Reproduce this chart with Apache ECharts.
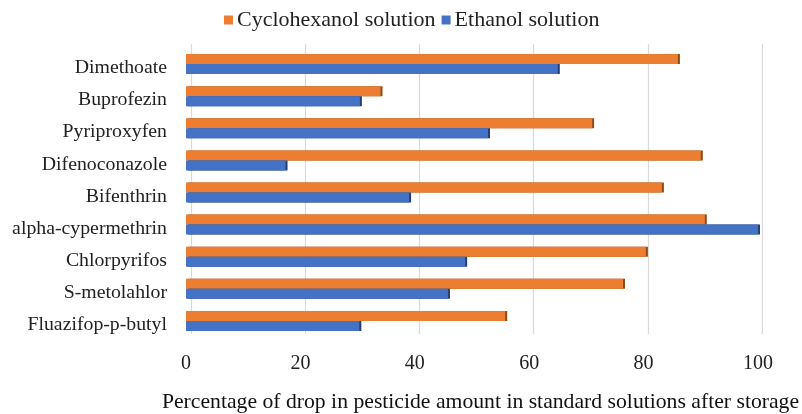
<!DOCTYPE html>
<html>
<head>
<meta charset="utf-8">
<script src="https://cdn.jsdelivr.net/npm/echarts@6/dist/echarts.min.js"></script>
<style>
  html, body { margin: 0; padding: 0; background: #fff; }
  #chart { width: 802px; height: 414px; }
</style>
</head>
<body>
<div id="chart"></div>
<script>
// Pesticides, listed top to bottom
const pesticides = [
  'Dimethoate', 'Buprofezin', 'Pyriproxyfen', 'Difenoconazole', 'Bifenthrin',
  'alpha-cypermethrin', 'Chlorpyrifos', 'S-metolahlor', 'Fluazifop-p-butyl'
];
// Percentage drop after storage
const cyclohexanol = [86, 34, 71, 90, 83.2, 90.7, 80.4, 76.4, 55.8];
const ethanol      = [65, 30.4, 52.8, 17.4, 39, 100.2, 48.8, 45.8, 30.3];
const xTicks = [0, 20, 40, 60, 80, 100];

const FONT = '"Liberation Serif", "Times New Roman", serif';

const chart = echarts.init(document.getElementById('chart'), null, { renderer: 'canvas' });

chart.setOption({
  animation: false,
  backgroundColor: '#ffffff',
  legend: {
    top: 4,
    left: 219,
    itemWidth: 9,
    itemHeight: 9,
    itemGap: 6,
    icon: 'rect',
    textStyle: { fontFamily: FONT, fontSize: 22, color: '#222', padding: [0, 0, 0, -1] },
    data: ['Cyclohexanol solution', 'Ethanol solution']
  },
  grid: [
    // front plane: bars and labels
    { left: 186, right: 44, top: 48, bottom: 77, outerBoundsMode: 'none', containLabel: false },
    // back wall: gridlines
    { left: 191, right: 40, top: 44, bottom: 80, outerBoundsMode: 'none', containLabel: false }
  ],
  xAxis: [
    {
      gridIndex: 0,
      type: 'value',
      min: xTicks[0],
      max: xTicks[xTicks.length - 1],
      interval: 20,
      axisLine: { show: false },
      axisTick: { show: false },
      splitLine: { show: false },
      axisLabel: {
        margin: 17,
        fontFamily: FONT, fontSize: 20, color: '#222'
      },
      name: 'Percentage of drop in pesticide amount in standard solutions after storage',
      nameLocation: 'middle',
      nameGap: 54,
      nameTextStyle: { fontFamily: FONT, fontSize: 21.7, color: '#111', padding: [0, 0, 0, 17] }
    },
    {
      gridIndex: 1,
      type: 'value',
      min: 0, max: 100, interval: 20,
      axisLine: { show: false },
      axisTick: { show: false },
      axisLabel: { show: false },
      splitLine: { show: true, lineStyle: { color: '#d9d9d9', width: 1.2 } }
    }
  ],
  yAxis: [
    {
      gridIndex: 0,
      type: 'category',
      inverse: true,
      data: pesticides,
      axisLine: { show: false },
      axisTick: { show: false },
      axisLabel: {
        margin: 19,
        formatter: '{n|{value}}',
        rich: {
          n: {
            fontFamily: FONT, fontSize: 19.8, color: '#222',
            padding: [8, 0, 0, 0]
          }
        }
      }
    },
    {
      gridIndex: 1,
      type: 'category',
      data: pesticides,
      show: false
    }
  ],
  series: [
    {
      name: 'Cyclohexanol solution',
      type: 'bar',
      xAxisIndex: 0, yAxisIndex: 0,
      data: cyclohexanol,
      barWidth: 10,
      barGap: '0%',
      itemStyle: {
        color: '#ED7D31',
        shadowColor: '#8f4a17',
        shadowOffsetX: 2,
        shadowBlur: 0
      }
    },
    {
      name: 'Ethanol solution',
      type: 'bar',
      xAxisIndex: 0, yAxisIndex: 0,
      data: ethanol,
      barWidth: 10,
      barGap: '0%',
      itemStyle: {
        color: '#4472C4',
        shadowColor: '#233f73',
        shadowOffsetX: 2,
        shadowBlur: 0
      }
    }
  ]
});
</script>
</body>
</html>
